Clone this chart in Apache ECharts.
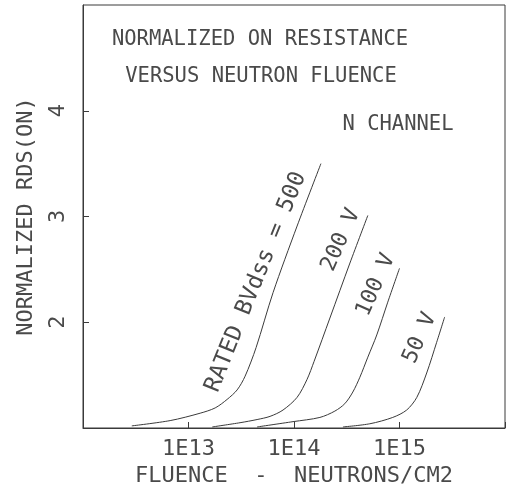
<!DOCTYPE html>
<html>
<head>
<meta charset="utf-8">
<script src="https://cdn.jsdelivr.net/npm/echarts@6/dist/echarts.min.js"></script>
<style>html,body{margin:0;padding:0;background:#fff;}#c{width:507px;height:487px;}</style>
</head>
<body>
<div id="c"></div>
<script>
// Data: [fluence (n/cm2), normalized RDS(ON)]
const bv500 = [[2.9e12,1.02],[6.7e12,1.07],[1.29e13,1.14],[1.79e13,1.19],[2.32e13,1.27],[2.89e13,1.36],[3.44e13,1.49],[4.37e13,1.76],[6.33e13,2.28],[1.07e14,2.91],[1.80e14,3.50]];
const bv200 = [[1.68e13,1.01],[3.08e13,1.05],[4.47e13,1.08],[5.93e13,1.11],[7.87e13,1.17],[1.07e14,1.29],[1.33e14,1.46],[1.55e14,1.63],[2.19e14,2.04],[3.39e14,2.56],[5.01e14,3.01]];
const bv100 = [[4.47e13,1.01],[9.79e13,1.06],[1.76e14,1.10],[2.44e14,1.16],[3.03e14,1.23],[3.61e14,1.34],[4.21e14,1.48],[5.01e14,1.67],[6.09e14,1.88],[7.74e14,2.19],[1.00e15,2.51]];
const bv50 = [[2.91e14,1.01],[5.23e14,1.04],[8.63e14,1.10],[1.17e15,1.17],[1.46e15,1.29],[1.81e15,1.52],[2.25e15,1.81],[2.68e15,2.05]];
const xTickLabels = ['1E13', '1E14', '1E15'];
const curveLabels = ['RATED BVdss = 500', '200 V', '100 V', '50 V'];
const titleLines = ['NORMALIZED ON RESISTANCE', 'VERSUS NEUTRON FLUENCE', 'N CHANNEL'];
const xName = 'FLUENCE  -  NEUTRONS/CM2';
const yName = 'NORMALIZED RDS(ON)';

const FONT = 'DejaVu Sans Mono';
const INK = '#3a3a3a';
const TXT = '#4a4a4a';
const chart = echarts.init(document.getElementById('c'), null, {renderer: 'canvas'});
const deg = Math.PI / 180;
function line(d) {
  return {type: 'line', data: d, showSymbol: false, smooth: 0.3,
    lineStyle: {color: INK, width: 1}, silent: true, animation: false};
}
function txt(str, x, y, size, rot) {
  return {type: 'text', x: x, y: y, rotation: (rot || 0) * deg,
    style: {text: str, fill: TXT, font: size + 'px "' + FONT + '"', align: 'center', verticalAlign: 'middle'}};
}
chart.setOption({
  animation: false,
  grid: {left: 83, right: 2, top: 5, bottom: 59, containLabel: false, outerBoundsMode: 'none',
    show: true, borderColor: INK, borderWidth: 1},
  xAxis: {
    type: 'log', logBase: 10, min: 1e12, max: 1e16,
    axisLine: {show: true, lineStyle: {color: INK, width: 1}},
    axisTick: {show: true, inside: true, length: 6, lineStyle: {color: INK}},
    splitLine: {show: false}, minorTick: {show: false},
    axisLabel: {margin: 10, fontFamily: FONT, fontSize: 22, color: TXT,
      formatter: v => { const s = '1E' + Math.round(Math.log10(v)); return xTickLabels.indexOf(s) >= 0 ? s : ''; }},
    name: xName, nameLocation: 'middle', nameGap: 30,
    nameTextStyle: {fontFamily: FONT, fontSize: 22, color: TXT}
  },
  yAxis: {
    type: 'value', min: 1, max: 5, interval: 1,
    axisLine: {show: true, lineStyle: {color: INK, width: 1}},
    axisTick: {show: true, inside: true, length: 6, lineStyle: {color: INK}},
    splitLine: {show: false},
    axisLabel: {showMinLabel: false, showMaxLabel: false, rotate: 90, margin: 14,
      fontFamily: FONT, fontSize: 22, color: TXT,
      formatter: v => (v > 1 && v < 5) ? String(v) : ''},
    name: yName, nameLocation: 'middle', nameGap: 46, nameRotate: 90,
    nameTextStyle: {fontFamily: FONT, fontSize: 22, color: TXT}
  },
  series: [line(bv500), line(bv200), line(bv100), line(bv50)],
  graphic: [
    txt(titleLines[0], 260, 40, 20.5),
    txt(titleLines[1], 261, 77, 20.5),
    txt(titleLines[2], 398, 125, 20.5),
    txt(curveLabels[0], 256, 282, 23, 68),
    txt(curveLabels[1], 341, 240, 22, 66),
    txt(curveLabels[2], 376, 285, 22, 66),
    txt(curveLabels[3], 420, 338, 22, 66)
  ]
});
</script>
</body>
</html>
